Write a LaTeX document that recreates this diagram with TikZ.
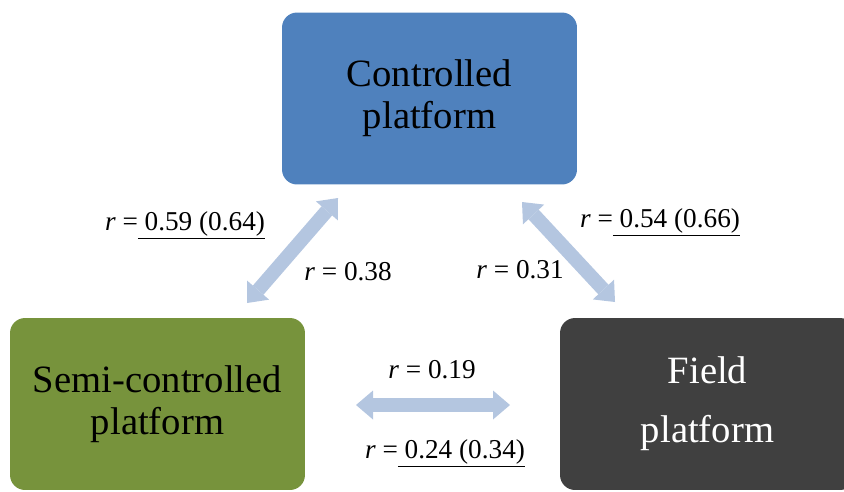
\documentclass[tikz,border=0pt]{standalone}
\usepackage{fontspec}
\setmainfont{Liberation Serif}
\usepackage{xcolor}
\usetikzlibrary{arrows.meta}
\definecolor{ctrlblue}{HTML}{4F81BD}
\definecolor{semigreen}{HTML}{77933C}
\definecolor{fieldgrey}{HTML}{404040}
\definecolor{linkblue}{HTML}{B4C6E0}
\tikzset{
  platform/.style={rectangle, rounded corners=0.3cm, minimum width=5.9cm, minimum height=3.44cm, inner sep=0pt, align=center, font=\fontsize{22}{24}\selectfont},
  link/.style={draw=linkblue, line width=0.28cm, {Triangle[width=0.58cm,length=0.34cm,line width=0pt]}-{Triangle[width=0.58cm,length=0.34cm,line width=0pt]}},
  lbl/.style={anchor=base, inner sep=0pt, font=\fontsize{15.5}{18}\selectfont}
}

\begin{document}
\begin{tikzpicture}[x=0.02cm, y=-0.02cm]
  \clip (0,0) rectangle (844,491);

  \node[platform, fill=ctrlblue] (ctrl) at (429.5,98.5) {Controlled\\platform};
  \node[platform, fill=semigreen] (semi) at (157.5,404) {Semi-controlled\\platform};
  \node[platform, fill=fieldgrey, text=white] (field) at (707.5,404) {Field\\[0.33cm]platform};

  \coordinate (SC1) at (247,303);
  \coordinate (SC2) at (338,198);
  \coordinate (CF1) at (522,202);
  \coordinate (CF2) at (615,302);
  \coordinate (SF1) at (356,405);
  \coordinate (SF2) at (510,405);

  \draw[link] (SC1) -- (SC2);
  \draw[link] (CF1) -- (CF2);
  \draw[link] (SF1) -- (SF2);

  \node[lbl] (rSCa) at (185,230) {\textit{r} =\underline{\ 0.59 (0.64)}};
  \node[lbl] (rSCb) at (348,280) {\textit{r} = 0.38};
  \node[lbl] (rCFa) at (660,227) {\textit{r} =\underline{\ 0.54 (0.66)}};
  \node[lbl] (rCFb) at (520,278) {\textit{r} = 0.31};
  \node[lbl] (rSFa) at (432,378) {\textit{r} = 0.19};
  \node[lbl] (rSFb) at (445,458) {\textit{r} =\underline{\ 0.24 (0.34)}};
\end{tikzpicture}
\end{document}
